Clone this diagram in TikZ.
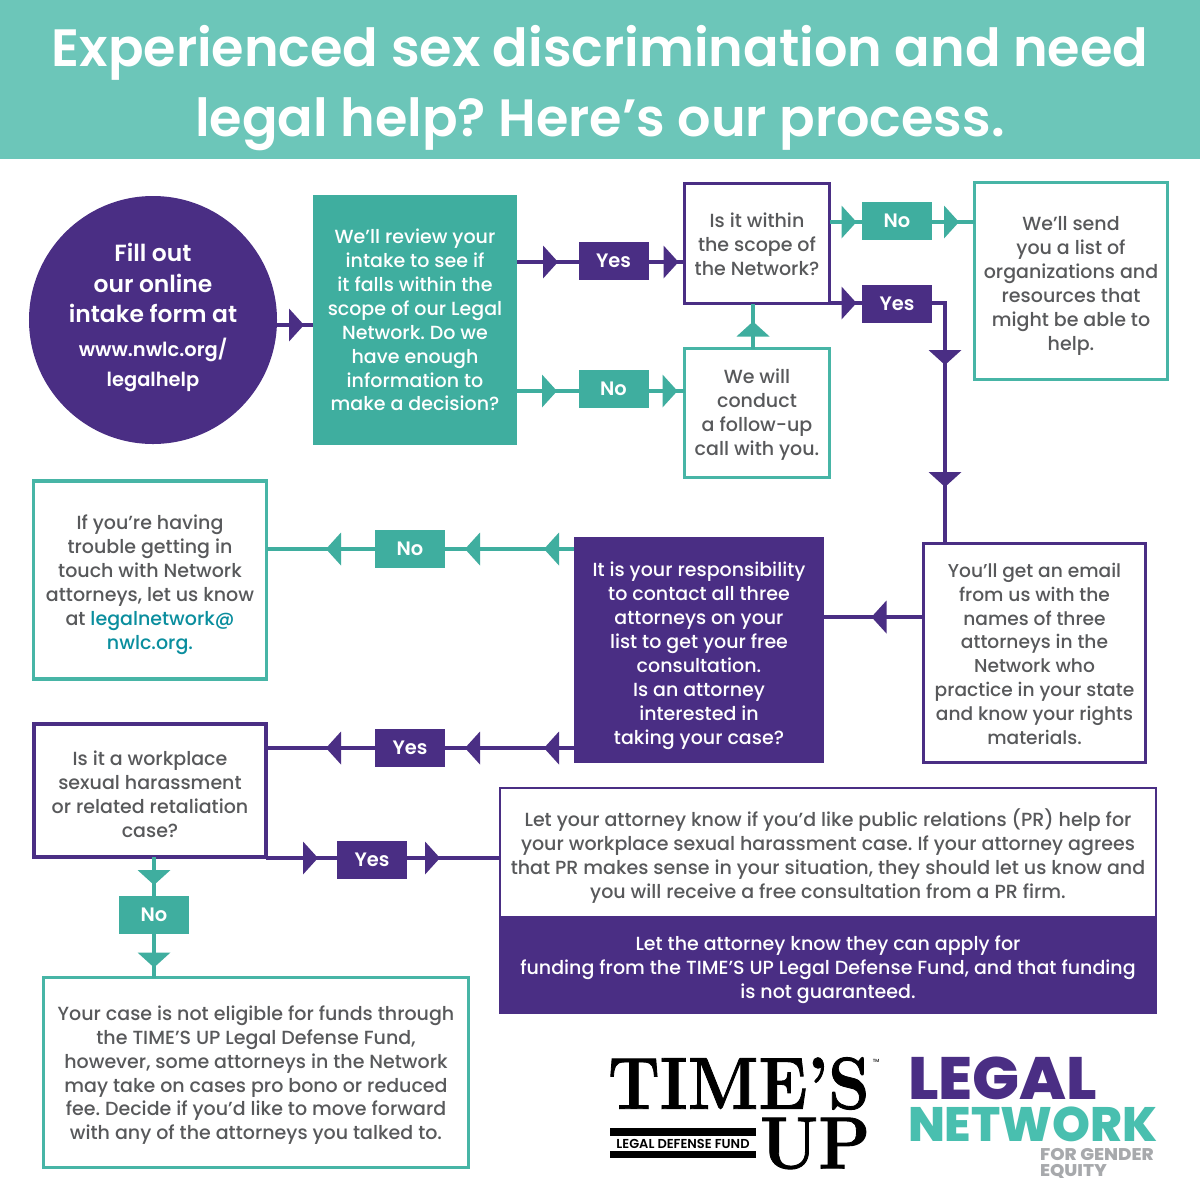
\documentclass[tikz,border=0pt]{standalone}
\usepackage{fontspec}
\usepackage{graphicx}
\setmainfont{Poppins Medium}[BoldFont={Poppins SemiBold}]
\newfontfamily\heavy{Poppins ExtraBold}
\newfontfamily\lm{Latin Modern Roman}[BoldFeatures={FakeBold=1.2}]
\usetikzlibrary{arrows.meta,decorations.markings}
\definecolor{pur}{HTML}{4A2E84}
\definecolor{tl}{HTML}{3FAE9F}
\definecolor{tlb}{HTML}{47B5A6}
\definecolor{band}{HTML}{6CC6B9}
\definecolor{gr}{HTML}{58595B}
\definecolor{lnk}{HTML}{0A8E9E}
\definecolor{lgr}{HTML}{A7A9AC}
\definecolor{lt}{HTML}{49BFAF}
\newcommand\dn[1]{\rule{0pt}{#1bp}}
\frenchspacing
\tikzset{
  x=1bp,y=-1bp,
  every node/.style={outer sep=0pt,inner sep=0pt,align=center},
  body/.style={font=\fontsize{19.1}{24}\selectfont,text=gr},
  tlbox/.style={body,draw=tlb,line width=3.5bp,fill=white},
  pubox/.style={body,draw=pur,line width=3.5bp,fill=white},
  tlfill/.style={body,fill=tl,text=white},
  pufill/.style={body,fill=pur,text=white},
  tlabel/.style={pufill,fill=tl,minimum width=70bp,minimum height=38bp,font=\fontsize{19.5}{24}\selectfont\bfseries},
  plabel/.style={pufill,minimum width=70bp,minimum height=38bp,font=\fontsize{19.5}{24}\selectfont\bfseries},
  pc/.style={color=pur,line width=4bp},
  tc/.style={color=tl,line width=4bp},
  tipat/.style={postaction={decorate,decoration={markings,mark=at position #1 with {\arrow[line width=0pt]{Triangle[length=15bp,width=33bp]}}}}},
}
\begin{document}
\begin{tikzpicture}
\frenchspacing
\useasboundingbox (0,0) rectangle (1200,1200);
\fill[white] (0,0) rectangle (1200,1200);
\fill[band] (0,0) rectangle (1200,159);
\node[text=white,font=\fontsize{52.7}{71}\selectfont\bfseries] (title) at (600,88) {Experienced sex discrimination and need\\legal help? Here’s our process.};
% boxes
\node[circle,fill=pur,minimum size=248bp,text=white] (circ) at (153,320) {};
\node[text=white,font=\fontsize{23.5}{31}\selectfont\bfseries] (circa) at (153,283) {Fill out\\our online\\intake form at};
\node[text=white,font=\fontsize{19.5}{31}\selectfont\bfseries] (circb) at (153,365) {www.nwlc.org/\\legalhelp};
\node[tlfill,minimum width=204bp,minimum height=250bp] (review) at (415,320) {We’ll review your\\intake to see if\\it falls within the\\scope of our Legal\\Network. Do we\\have enough\\information to\\make a decision?};
\node[pubox,minimum width=145bp,minimum height=120bp] (scope) at (757,243.5) {\dn{16}Is it within\\the scope of\\the Network?};
\node[tlbox,minimum width=145bp,minimum height=129bp] (follow) at (757,413) {\dn{18}We will\\conduct\\a follow-up\\call with you.};
\node[tlbox,minimum width=193bp,minimum height=197bp] (send) at (1071,281) {\dn{24}We’ll send\\you a list of\\organizations and\\resources that\\might be able to\\help.};
\node[pubox,minimum width=222bp,minimum height=219bp,font=\fontsize{18.7}{24}\selectfont] (email) at (1034.5,653) {\dn{16}You’ll get an email\\from us with the\\names of three\\attorneys in the\\Network who\\practice in your state\\and know your rights\\materials.};
\node[pufill,minimum width=250bp,minimum height=226bp] (resp) at (699,650) {\dn{26}It is your responsibility\\to contact all three\\attorneys on your\\list to get your free\\consultation.\\Is an attorney\\interested in\\taking your case?};
\node[tlbox,minimum width=233bp,minimum height=198bp] (trouble) at (150,580) {\dn{24}If you’re having\\trouble getting in\\touch with Network\\attorneys, let us know\\at {\color{lnk}legalnetwork@}\\{\color{lnk}nwlc.org.}};
\node[pubox,line width=4bp,minimum width=232bp,minimum height=133bp] (work) at (150,790.5) {\dn{22}Is it a workplace\\sexual harassment\\or related retaliation\\case?};
\node[tlbox,minimum width=425bp,minimum height=190bp] (elig) at (256,1072.5) {\dn{20}Your case is not eligible for funds through\\the TIME’S UP Legal Defense Fund,\\however, some attorneys in the Network\\may take on cases pro bono or reduced\\fee. Decide if you’d like to move forward\\with any of the attorneys you talked to.};
\node[body,draw=pur,line width=2bp,fill=white,minimum width=656bp,minimum height=129bp] (pr) at (828,852) {\dn{26}Let your attorney know if you’d like public relations (PR) help for\\your workplace sexual harassment case. If your attorney agrees\\that PR makes sense in your situation, they should let us know and\\you will receive a free consultation from a PR firm.};
\node[pufill,minimum width=658bp,minimum height=98bp] (fund) at (828,965) {\dn{24}Let the attorney know they can apply for\\funding from the TIME’S UP Legal Defense Fund, and that funding\\is not guaranteed.};
% labels
\node[plabel] (y1) at (613.5,260.5) {Yes};
\node[tlabel] (n1) at (613.5,389) {No};
\node[tlabel] (n2) at (897,221) {No};
\node[plabel] (y2) at (897,304) {Yes};
\node[tlabel] (n3) at (410,549) {No};
\node[plabel] (y3) at (410,748) {Yes};
\node[plabel] (y4) at (372,860) {Yes};
\node[tlabel] (n4) at (154,914.5) {No};
% connectors
\coordinate (bend) at (945,303);
\draw[pc,tipat=27bp] (circ.east |- 0,325) -- (review.west |- 0,325);
\draw[pc,tipat=41bp] (review.east |- 0,262) -- (y1.west |- 0,262);
\draw[pc,tipat=30bp] (y1.east |- 0,262) -- (scope.west |- 0,262);
\draw[tc,tipat=40bp] (review.east |- 0,391) -- (n1.west |- 0,391);
\draw[tc,tipat=29bp] (n1.east |- 0,391) -- (follow.west |- 0,391);
\draw[tc,tipat=27bp] (follow.north -| 753,0) -- (scope.south -| 753,0);
\draw[tc,tipat=27bp] (scope.east |- 0,222) -- (n2.west |- 0,222);
\draw[tc,tipat=27bp] (n2.east |- 0,222) -- (send.west |- 0,222);
\draw[pc,tipat=27bp] (scope.east |- 0,303) -- (y2.west |- 0,303);
\draw[pc,tipat=75bp,tipat=197bp] (y2.east |- 0,303) -- (bend) -- (email.north -| bend);
\draw[pc,tipat=52bp] (email.west |- 0,617) -- (resp.east |- 0,617);
\draw[tc,tipat=30bp,tipat=109bp] (resp.west |- 0,549) -- (n3.east |- 0,549);
\draw[tc,tipat=49bp] (n3.west |- 0,549) -- (trouble.east |- 0,549);
\draw[pc,tipat=30bp,tipat=109bp] (resp.west |- 0,748) -- (y3.east |- 0,748);
\draw[pc,tipat=49bp] (y3.west |- 0,748) -- (work.east |- 0,748);
\draw[pc,tipat=52bp] (work.east |- 0,858) -- (y4.west |- 0,858);
\draw[pc,tipat=33bp] (y4.east |- 0,858) -- (pr.west |- 0,858);
\draw[tc,tipat=28bp] (work.south -| n4) -- (n4.north);
\draw[tc,tipat=34bp] (n4.south) -- (elig.north -| n4);
% logos
\node[font=\fontsize{74}{74}\selectfont\lm\bfseries,anchor=west,text=black] (times) at (608,1083.5) {\scalebox{0.90}[1]{TIME’S}};
\node[font=\fontsize{74}{74}\selectfont\lm\bfseries,anchor=west,text=black] (up) at (760,1143.5) {\scalebox{0.915}[1]{UP}};
\node[font=\fontsize{4.5}{5}\selectfont,text=black] (tm) at (876,1061) {TM};
\node[minimum width=146bp,minimum height=8bp,fill=black] (bara) at (683,1132) {};
\node[minimum width=146bp,minimum height=7.5bp,fill=black] (barb) at (683,1154.5) {};
\node[font=\fontsize{13}{12}\selectfont\bfseries,text=black] (ldf) at (683,1143.5) {LEGAL DEFENSE FUND};
\node[font=\fontsize{60}{60}\selectfont\heavy,text=pur,anchor=west] (legal) at (908,1078) {\scalebox{1.04}[1]{LEGAL}};
\node[font=\fontsize{48.5}{48}\selectfont\heavy,text=lt,anchor=west] (net) at (908,1124) {NETWORK};
\node[font=\fontsize{17}{16}\selectfont\heavy,text=lgr,anchor=west] (gender) at (1040,1164.5) {\scalebox{1.08}[1]{\begin{tabular}{@{}l@{}}FOR GENDER\\[-1pt]EQUITY\end{tabular}}};
\end{tikzpicture}
\end{document}
